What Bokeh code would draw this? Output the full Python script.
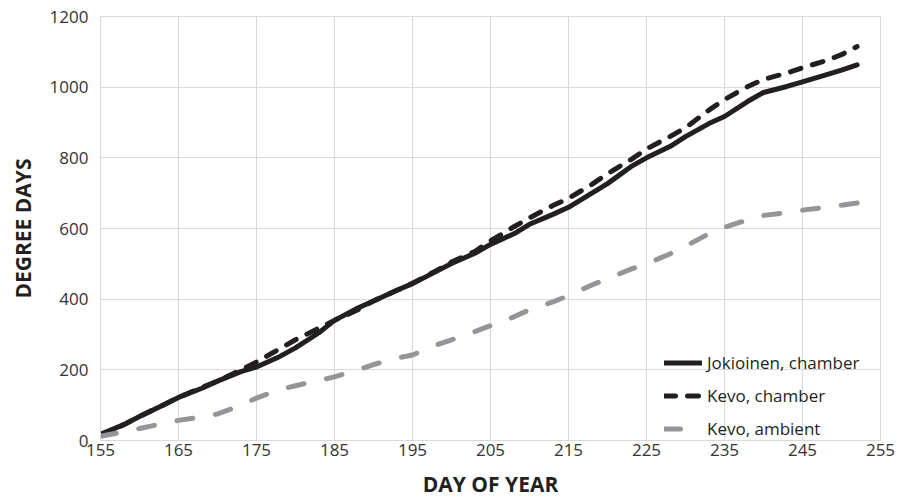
from bokeh.plotting import figure
from bokeh.models import Range1d, FixedTicker, Legend, LegendItem
from bokeh.embed import file_html
from bokeh.resources import INLINE

# ---- data ----
days = [155, 158, 160, 163, 165, 168, 170, 173, 175, 178, 180, 183, 185, 188, 190,
        193, 195, 198, 200, 203, 205, 208, 210, 213, 215, 218, 220, 223, 225, 228,
        230, 233, 235, 238, 240, 243, 245, 248, 250, 252]

jokioinen_chamber = [18, 45, 68, 100, 122, 148, 168, 195, 208, 238, 262, 305, 340, 375, 395,
                     425, 444, 478, 501, 530, 555, 585, 612, 640, 660, 700, 727, 775, 800, 832,
                     860, 897, 917, 960, 985, 1002, 1015, 1035, 1048, 1063]

kevo_chamber = [15, 45, 68, 100, 122, 150, 168, 200, 222, 260, 285, 318, 340, 370, 395,
                425, 445, 480, 505, 535, 565, 605, 630, 665, 685, 725, 755, 795, 825, 860,
                885, 935, 965, 1002, 1022, 1040, 1055, 1075, 1092, 1115]

kevo_ambient = [12, 25, 34, 48, 57, 67, 75, 100, 120, 145, 155, 170, 180, 200, 215,
                233, 242, 270, 285, 308, 325, 350, 370, 392, 410, 440, 458, 485, 500, 528,
                550, 585, 603, 625, 637, 645, 652, 660, 666, 672]

x_ticks = [155, 165, 175, 185, 195, 205, 215, 225, 235, 245, 255]
y_ticks = [0, 200, 400, 600, 800, 1000, 1200]

series_labels = ["Jokioinen, chamber", "Kevo, chamber", "Kevo, ambient"]

FONT = "Open Sans"
GRID = "#d9d9d9"

p = figure(width=905, height=500, output_backend="svg", toolbar_location=None,
           x_range=Range1d(155, 255), y_range=Range1d(0, 1200),
           min_border_left=100, min_border_right=25, min_border_top=16, min_border_bottom=60)

p.outline_line_color = GRID
p.background_fill_color = "white"

p.xgrid.ticker = FixedTicker(ticks=x_ticks)
p.ygrid.ticker = FixedTicker(ticks=y_ticks)
for g in (p.xgrid, p.ygrid):
    g.grid_line_color = GRID
    g.grid_line_width = 1

p.xaxis.ticker = FixedTicker(ticks=x_ticks)
p.yaxis.ticker = FixedTicker(ticks=y_ticks)

for ax in (p.xaxis, p.yaxis):
    ax.axis_line_color = GRID
    ax.major_tick_line_color = None
    ax.minor_tick_line_color = None
    ax.major_tick_out = 0
    ax.major_tick_in = 0
    ax.major_label_text_font = FONT
    ax.major_label_text_font_size = "17px"
    ax.major_label_text_color = "#333333"
    ax.axis_label_text_font = FONT
    ax.axis_label_text_font_size = "21px"
    ax.axis_label_text_font_style = "bold"
    ax.axis_label_text_color = "#231F20"

p.xaxis.axis_label = "DAY OF YEAR"
p.yaxis.axis_label = "DEGREE DAYS"
p.xaxis.major_label_standoff = 3
p.xaxis.axis_label_standoff = 11
p.yaxis.major_label_standoff = 12
p.yaxis.axis_label_standoff = 10

r1 = p.line(days, jokioinen_chamber, line_color="#231F20", line_width=5,
            line_cap="round", line_join="round")
r2 = p.line(days, kevo_chamber, line_color="#231F20", line_width=5,
            line_dash="11 12", line_cap="round", line_join="round")
r3 = p.line(days, kevo_ambient, line_color="#939598", line_width=5,
            line_dash="16 23", line_cap="round", line_join="round")

legend = Legend(items=[LegendItem(label=series_labels[0], renderers=[r1]),
                       LegendItem(label=series_labels[1], renderers=[r2]),
                       LegendItem(label=series_labels[2], renderers=[r3])],
                location=(564, 0), orientation="vertical",
                padding=0, margin=0, spacing=10,
                glyph_width=38, glyph_height=23, label_height=23,
                label_standoff=5,
                label_text_font=FONT, label_text_font_size="17px",
                label_text_color="#231F20",
                background_fill_alpha=0, border_line_alpha=0)
p.add_layout(legend)

open("out.html", "w").write(file_html(p, INLINE))
